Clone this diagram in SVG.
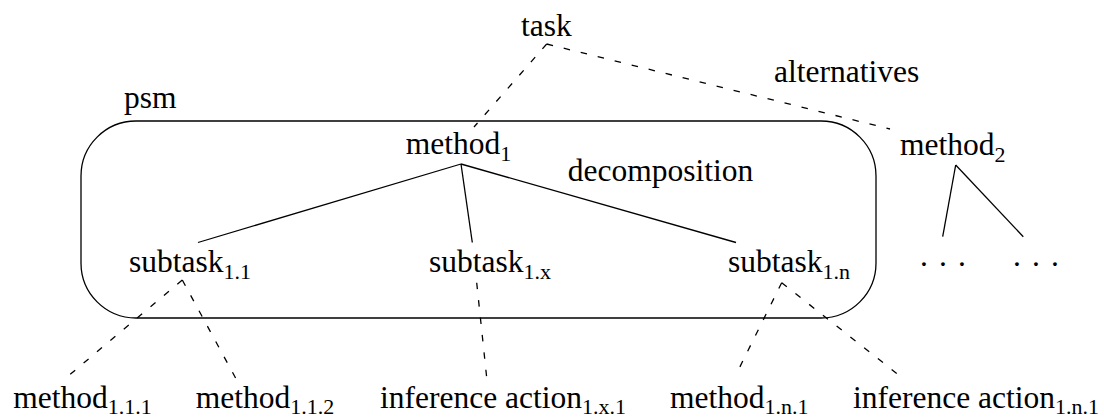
<svg xmlns="http://www.w3.org/2000/svg" width="1104" height="419" viewBox="0 0 1104 419">
<style>
  .lbl { font-family: "Liberation Serif", "DejaVu Serif", serif; font-size: 31.5px; fill: #000; }
  .sub { font-size: 22px; }
  .solid { stroke: #000; stroke-width: 1.3; fill: none; }
  .dash { stroke: #000; stroke-width: 1.3; fill: none; stroke-dasharray: 6.5 11; }
</style>
<rect width="1104" height="419" fill="#fff"/>
<g id="psm">
  <rect class="solid" x="81" y="121" width="795" height="197" rx="55" ry="55"/>
  <text class="lbl" font-family="Liberation Serif, serif" x="124" y="108">psm</text>
</g>
<g id="connectors">
  <line class="dash" x1="546.7" y1="44" x2="474" y2="127"/>
  <line class="dash" x1="546.7" y1="44" x2="890" y2="129"/>
  <line class="solid" x1="461" y1="164" x2="198" y2="242.5"/>
  <line class="solid" x1="461" y1="164" x2="472.3" y2="242.5"/>
  <line class="solid" x1="461" y1="164" x2="736" y2="242.5"/>
  <line class="solid" x1="955.7" y1="165" x2="942.7" y2="236.7"/>
  <line class="solid" x1="955.7" y1="165" x2="1023.3" y2="236.7"/>
  <line class="dash" x1="182.3" y1="280" x2="66.7" y2="377.3"/>
  <line class="dash" x1="182.3" y1="280" x2="236.7" y2="380"/>
  <line class="dash" x1="476.7" y1="282.7" x2="487.3" y2="383.3"/>
  <line class="dash" x1="781.7" y1="282.7" x2="735" y2="376.7"/>
  <line class="dash" x1="781.7" y1="282.7" x2="905" y2="380"/>
</g>
<g class="lbl" font-family="Liberation Serif, serif">
<g id="task"><text class="lbl" x="521" y="36">task</text></g>
<g id="alternatives-label"><text class="lbl" x="774" y="82">alternatives</text></g>
<g id="decomposition-label"><text class="lbl" x="567.7" y="181">decomposition</text></g>
<g id="method1"><text class="lbl" x="405.7" y="154">method<tspan class="sub" dy="7">1</tspan></text></g>
<g id="method2"><text class="lbl" x="900" y="155">method<tspan class="sub" dy="7">2</tspan></text></g>
<g id="dots-left"><text class="lbl" x="920" y="266" letter-spacing="1.6">. . .</text></g>
<g id="dots-right"><text class="lbl" x="1013" y="266" letter-spacing="1.6">. . .</text></g>
<g id="subtask11"><text class="lbl" x="129" y="272">subtask<tspan class="sub" dy="7">1.1</tspan></text></g>
<g id="subtask1x"><text class="lbl" x="429" y="272">subtask<tspan class="sub" dy="7">1.x</tspan></text></g>
<g id="subtask1n"><text class="lbl" x="728" y="272">subtask<tspan class="sub" dy="7">1.n</tspan></text></g>
<g id="method111"><text class="lbl" x="13.3" y="408">method<tspan class="sub" dy="6">1.1.1</tspan></text></g>
<g id="method112"><text class="lbl" x="195.7" y="408">method<tspan class="sub" dy="6">1.1.2</tspan></text></g>
<g id="inference1x1"><text class="lbl" x="380" y="408">inference action<tspan class="sub" dy="6">1.x.1</tspan></text></g>
<g id="method1n1"><text class="lbl" x="670" y="408">method<tspan class="sub" dy="6">1.n.1</tspan></text></g>
<g id="inference1n1"><text class="lbl" x="853" y="408">inference action<tspan class="sub" dy="6">1.n.1</tspan></text></g>
</g>
</svg>
